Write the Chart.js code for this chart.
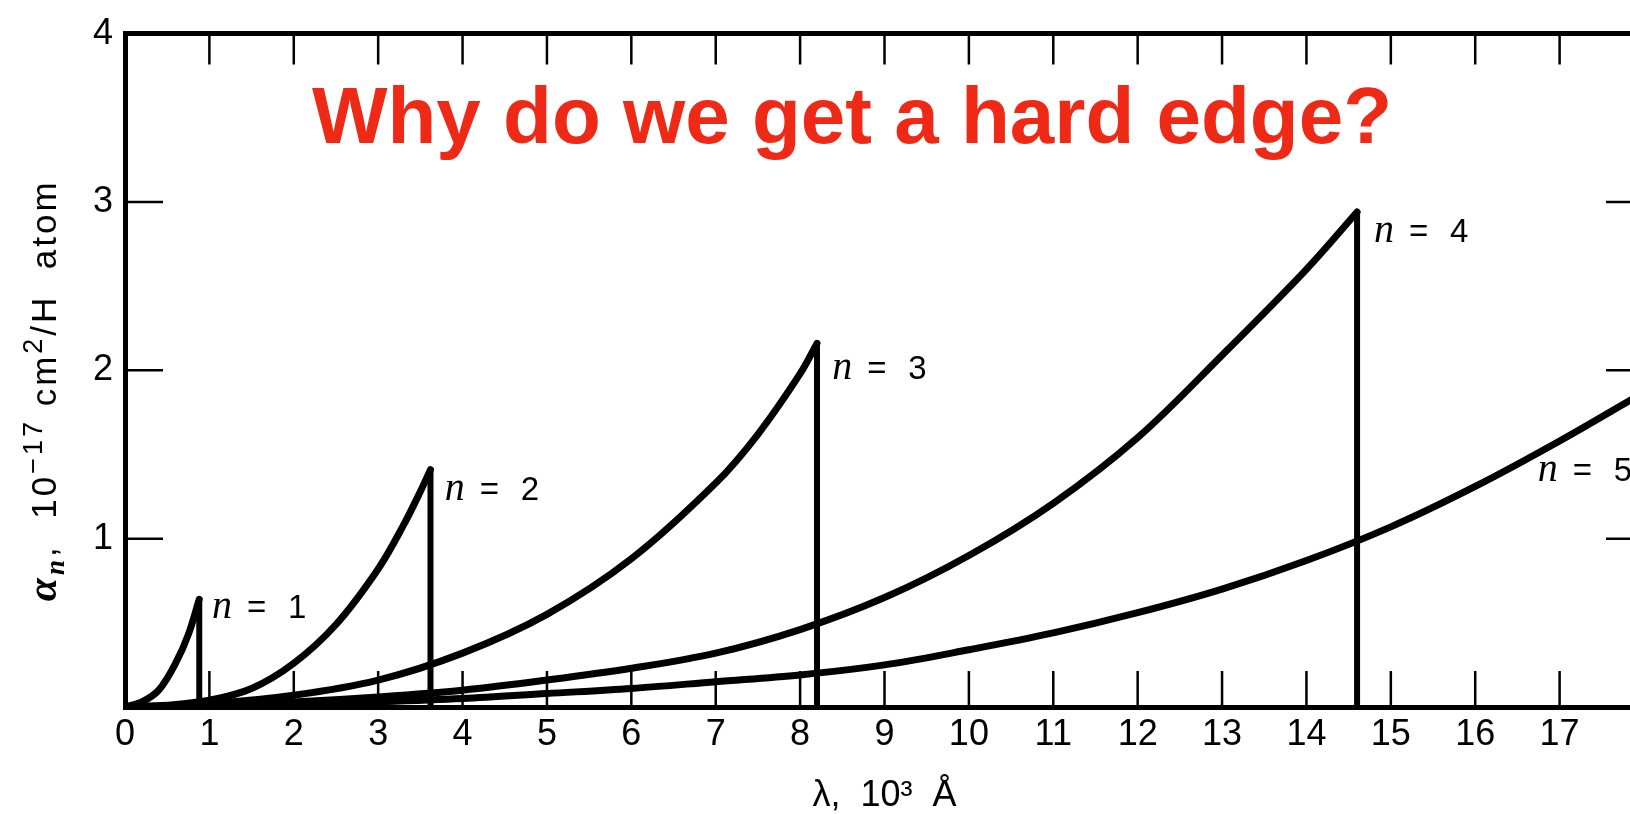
<!DOCTYPE html>
<html lang="en">
<head>
<meta charset="UTF-8">
<title>Hydrogen bound-free cross sections</title>
<script src="https://cdn.jsdelivr.net/npm/chart.js@4.4.1/dist/chart.umd.min.js"></script>
<style>
    html, body { margin: 0; padding: 0; background: #fff; overflow: hidden; }
    #wrap { position: relative; width: 1660px; height: 814px; }
</style>
</head>
<body>
<div id="wrap"><canvas id="alphaChart"></canvas></div>
<script>
// wavelength in 10^3 A, cross section in 10^-17 cm^2 per H atom
const n1Wave  = [0, 0.2, 0.4, 0.6, 0.75, 0.88];
const n1Alpha = [0, 0.03, 0.1, 0.26, 0.43, 0.64];

const n2Wave  = [0, 0.5, 1, 1.5, 2, 2.5, 3, 3.3, 3.5, 3.62];
const n2Alpha = [0, 0.01, 0.04, 0.11, 0.26, 0.49, 0.82, 1.08, 1.28, 1.41];

const n3Wave  = [0, 1, 2, 3, 4, 5, 6, 7, 7.5, 8, 8.2];
const n3Alpha = [0, 0.02, 0.07, 0.16, 0.32, 0.55, 0.88, 1.33, 1.62, 1.98, 2.16];

const n4Wave  = [0, 1, 2, 3, 4, 5, 6, 7, 8, 9, 10, 11, 12, 13, 14, 14.6];
const n4Alpha = [0, 0.01, 0.03, 0.06, 0.1, 0.16, 0.23, 0.32, 0.46, 0.65, 0.9, 1.21, 1.6, 2.09, 2.6, 2.94];

const n5Wave  = [0, 1, 2, 3, 4, 5, 6, 7, 8, 9, 10, 11, 12, 13, 14, 15, 16, 17, 18];
const n5Alpha = [0, 0.005, 0.015, 0.03, 0.05, 0.08, 0.11, 0.15, 0.19, 0.25, 0.34, 0.44, 0.56, 0.7, 0.87, 1.07, 1.31, 1.58, 1.87];

const levelNames = ['1', '2', '3', '4', '5'];
const hasEdge = [true, true, true, true, false];

// where each "n = ..." label sits (left edge, baseline), in data units
const labelWave  = [1.03, 3.79, 8.38, 14.8, 16.74];
const labelAlpha = [0.53, 1.23, 1.95, 2.76, 1.34];

const xTickValues = [0, 1, 2, 3, 4, 5, 6, 7, 8, 9, 10, 11, 12, 13, 14, 15, 16, 17];
const yTickValues = [1, 2, 3, 4];

const SANS = '"Liberation Sans", Arial, Helvetica, sans-serif';
const SERIF = '"Liberation Serif", "Times New Roman", serif';

const waves = [n1Wave, n2Wave, n3Wave, n4Wave, n5Wave];
const alphas = [n1Alpha, n2Alpha, n3Alpha, n4Alpha, n5Alpha];

const datasets = [];
waves.forEach((w, i) => {
    const pts = w.map((v, k) => ({ x: v, y: alphas[i][k] }));
    if (hasEdge[i]) {
        // the absorption edge: straight drop back to zero
        const top = pts[pts.length - 1];
        datasets.push({
            label: 'edge ' + levelNames[i],
            data: [{ x: top.x, y: top.y }, { x: top.x, y: 0 }],
            borderColor: '#000', borderWidth: 6, pointRadius: 0, tension: 0,
            borderCapStyle: 'round', fill: false
        });
    }
    datasets.push({
        label: 'n = ' + levelNames[i],
        data: pts,
        borderColor: '#000', borderWidth: 7, pointRadius: 0,
        tension: 0.35, borderCapStyle: 'round',
        borderJoinStyle: 'round', fill: false
    });
});

// tick marks point into the plot on all four sides
const inwardTicks = {
    id: 'inwardTicks',
    afterDatasetsDraw(chart) {
        const { ctx, chartArea: a, scales: { x, y } } = chart;
        ctx.save();
        ctx.strokeStyle = '#000';
        ctx.lineWidth = 2.5;
        ctx.beginPath();
        xTickValues.forEach(v => {
            if (v <= x.min || v >= x.max) return;
            const px = x.getPixelForValue(v);
            ctx.moveTo(px, a.top); ctx.lineTo(px, a.top + 31);
            ctx.moveTo(px, a.bottom); ctx.lineTo(px, a.bottom - 36);
        });
        yTickValues.forEach(v => {
            if (v <= y.min || v >= y.max) return;
            const py = y.getPixelForValue(v);
            ctx.moveTo(a.left, py); ctx.lineTo(a.left + 38, py);
            ctx.moveTo(a.right, py); ctx.lineTo(a.right - 38, py);
        });
        ctx.stroke();
        ctx.restore();
    }
};

// "n = k" next to each curve
const levelLabels = {
    id: 'levelLabels',
    afterDatasetsDraw(chart) {
        const { ctx, scales: { x, y } } = chart;
        ctx.save();
        ctx.fillStyle = '#000';
        ctx.textBaseline = 'alphabetic';
        ctx.textAlign = 'left';
        levelNames.forEach((name, i) => {
            const px = x.getPixelForValue(labelWave[i]);
            const py = y.getPixelForValue(labelAlpha[i]);
            ctx.font = 'italic 40px ' + SERIF;
            ctx.fillText('n', px, py);
            ctx.font = '33px ' + SANS;
            ctx.fillText('=', px + 35, py);
            ctx.fillText(name, px + 76, py);
        });
        ctx.restore();
    }
};

// rotated y-axis title with sub/superscripts
const yTitle = {
    id: 'yTitle',
    afterDraw(chart) {
        const { ctx, chartArea: a } = chart;
        const parts = [
            { t: 'α', f: 'italic bold 42px ' + SERIF, dy: 0 },
            { t: 'n', f: 'italic bold 27px ' + SERIF, dy: 8 },
            { t: ',  ', f: '35px ' + SANS, dy: 0 },
            { t: '10', f: '35px ' + SANS, dy: 0 },
            { t: '−17', f: '27px ' + SANS, dy: -14 },
            { t: ' cm', f: '35px ' + SANS, dy: 0 },
            { t: '2', f: '27px ' + SANS, dy: -14 },
            { t: '/H  atom', f: '35px ' + SANS, dy: 0 }
        ];
        ctx.save();
        ctx.fillStyle = '#000';
        ctx.textBaseline = 'alphabetic';
        ctx.textAlign = 'left';
        if ('letterSpacing' in ctx) ctx.letterSpacing = '3px';
        let total = 0;
        parts.forEach(p => { ctx.font = p.f; p.w = ctx.measureText(p.t).width; total += p.w; });
        ctx.translate(56, (a.top + a.bottom) / 2 + 20);
        ctx.rotate(-Math.PI / 2);
        let cx = -total / 2;
        parts.forEach(p => {
            ctx.font = p.f;
            ctx.fillText(p.t, cx, p.dy);
            cx += p.w;
        });
        ctx.restore();
    }
};

// the question printed over the plot
const headline = {
    id: 'headline',
    afterDraw(chart) {
        const { ctx } = chart;
        ctx.save();
        ctx.fillStyle = '#EE2A16';
        ctx.font = 'bold 80px ' + SANS;
        ctx.textAlign = 'center';
        ctx.textBaseline = 'alphabetic';
        ctx.fillText('Why do we get a hard edge?', 852, 143);
        ctx.restore();
    }
};

const frameAxis = (position) => ({
    type: 'linear',
    position: position,
    grid: { display: false, drawTicks: false },
    border: { display: true, color: '#000', width: 5 },
    ticks: { display: false }
});

new Chart(document.getElementById('alphaChart'), {
    type: 'line',
    data: { datasets: datasets },
    options: {
        responsive: true,
        maintainAspectRatio: false,
        animation: false,
        events: [],
        layout: { padding: { top: 25, right: 16, left: 0, bottom: 0 }, autoPadding: false },
        plugins: { legend: { display: false }, tooltip: { enabled: false } },
        scales: {
            x: {
                type: 'linear', position: 'bottom', min: 0, max: 18,
                grid: { display: false, drawTicks: false },
                border: { display: true, color: '#000', width: 5 },
                afterBuildTicks: s => { s.ticks = xTickValues.map(v => ({ value: v })); },
                afterFit: s => { s.height = 107; },
                ticks: { color: '#000', font: { family: SANS, size: 36 }, padding: 6, maxRotation: 0, autoSkip: false },
                title: {
                    display: true, text: 'λ,  10³  Å', color: '#000',
                    font: { family: SANS, size: 36, lineHeight: 0.5 }, padding: { top: 0, bottom: 9 }
                }
            },
            xTop: Object.assign(frameAxis('top'), { min: 0, max: 18, afterFit: s => { s.height = 0; } }),
            y: {
                type: 'linear', position: 'left', min: 0, max: 4,
                grid: { display: false, drawTicks: false },
                border: { display: true, color: '#000', width: 5 },
                afterBuildTicks: s => { s.ticks = yTickValues.map(v => ({ value: v })); },
                afterFit: s => { s.width = 125; },
                ticks: { color: '#000', font: { family: SANS, size: 36 }, padding: 12 }
            },
            yRight: Object.assign(frameAxis('right'), { min: 0, max: 4, afterFit: s => { s.width = 0; } })
        }
    },
    plugins: [inwardTicks, levelLabels, yTitle, headline]
});
</script>
</body>
</html>
